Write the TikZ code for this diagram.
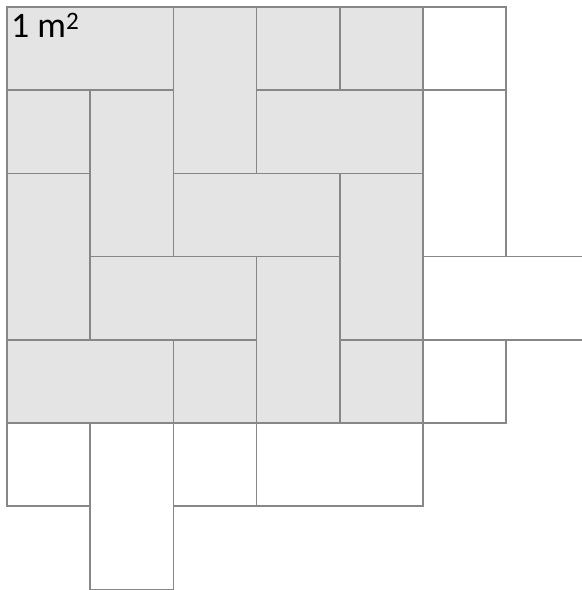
\documentclass[tikz,border=0pt]{standalone}
\usepackage{fontspec}
\setmainfont{Carlito}
\usetikzlibrary{positioning}
\definecolor{tilegrey}{RGB}{228,228,228}
\definecolor{jointgrey}{RGB}{135,135,135}
\newcommand{\tu}{83.2}

\begin{document}
\begin{tikzpicture}[
 x=1bp, y=-1bp,
 tile/.style={draw=jointgrey, line width=1.5bp},
 area/.style={fill=tilegrey, draw=none}]
\useasboundingbox (0,0) rectangle (582,590);
\clip (0,0) rectangle (582,590);
% the square metre
\fill[area] (7,7) rectangle ({7+5*\tu},{7+5*\tu});
% tiles, in grid units: x0/y0/x1/y1
\foreach \xa/\ya/\xb/\yb in {
 0/0/2/1, 2/0/3/2, 3/0/4/1, 4/0/5/1, 5/0/6/1,
 0/1/1/2, 1/1/2/3, 3/1/5/2, 5/1/6/3,
 0/2/1/4, 2/2/4/3, 4/2/5/4,
 1/3/3/4, 3/3/4/5, 5/3/7/4,
 0/4/2/5, 2/4/3/5, 4/4/5/5, 5/4/6/5,
 0/5/1/6, 1/5/2/7, 2/5/3/6, 3/5/5/6}
 \draw[tile] ({7+\xa*\tu},{7+\ya*\tu}) rectangle ({7+\xb*\tu},{7+\yb*\tu});
\node[anchor=base west, inner sep=0pt, font=\fontsize{36}{40}\selectfont]
 (label) at (11,38) {1 m\textsuperscript{2}};
\end{tikzpicture}
\end{document}
